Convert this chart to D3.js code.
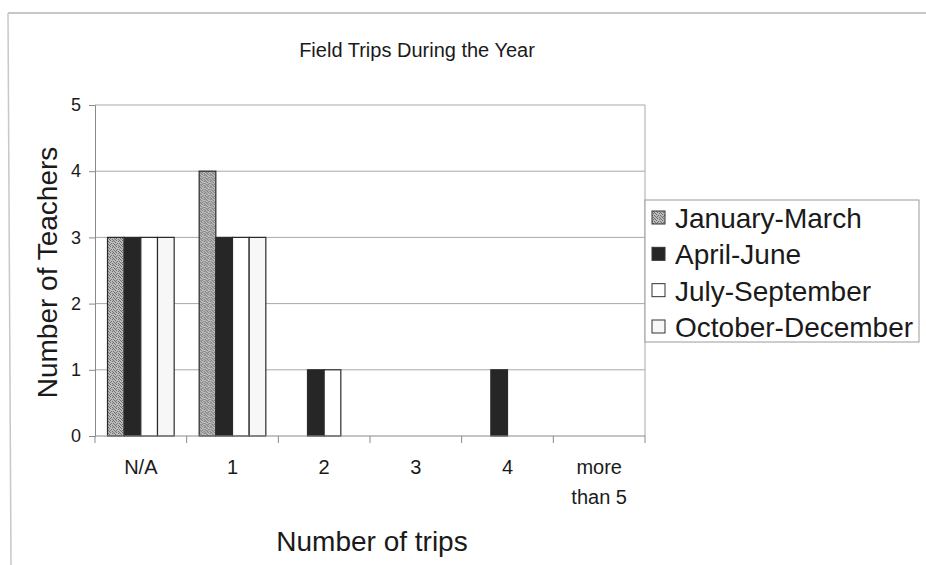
<!DOCTYPE html>
<html>
<head>
<meta charset="utf-8">
<script src="https://cdn.jsdelivr.net/npm/d3@7/dist/d3.min.js"></script>
<style>
  html, body { margin: 0; padding: 0; background: #fff; }
  svg { display: block; font-family: "Liberation Sans", Arial, sans-serif; }
</style>
</head>
<body>
<svg id="chart" width="926" height="565"></svg>
<script>
// Chart data
const categories = ["N/A", "1", "2", "3", "4", "more than 5"];
const seriesNames = ["January-March", "April-June", "July-September", "October-December"];
const janMar = [3, 4, 0, 0, 0, 0];
const aprJun = [3, 3, 1, 0, 1, 0];
const julSep = [3, 3, 1, 0, 0, 0];
const octDec = [3, 3, 0, 0, 0, 0];
const yTicks = [0, 1, 2, 3, 4, 5];

const seriesValues = [janMar, aprJun, julSep, octDec];

const svg = d3.select("#chart");
const W = 926, H = 565;
const plot = { left: 95, right: 645, top: 105, bottom: 436 };

// Stippled fill for the first series
const defs = svg.append("defs");
const pat = defs.append("pattern")
  .attr("id", "stipple").attr("patternUnits", "userSpaceOnUse")
  .attr("width", 6).attr("height", 6);
pat.append("rect").attr("width", 6).attr("height", 6).attr("fill", "#bababa");
[[0, 0], [3, 0], [1, 1], [5, 1], [2, 2], [4, 3], [0, 3], [1, 4], [3, 4], [5, 5], [2, 5]].forEach(([px, py]) =>
  pat.append("rect").attr("x", px).attr("y", py).attr("width", 1).attr("height", 1).attr("fill", "#707070"));

const fills = ["url(#stipple)", "#262626", "#ffffff", "#f7f7f7"];

// Outer chart frame (top and left edges)
svg.append("line").attr("x1", 8).attr("y1", 13).attr("x2", W).attr("y2", 13)
  .attr("stroke", "#b5b5b5").attr("stroke-width", 1.5);
svg.append("line").attr("x1", 8).attr("y1", 13).attr("x2", 11).attr("y2", H)
  .attr("stroke", "#c8c8c8").attr("stroke-width", 1.5);

// Scales
const x0 = d3.scaleBand().domain(categories).range([plot.left, plot.right]).paddingInner(0).paddingOuter(0);
const y = d3.scaleLinear().domain([0, 5]).range([plot.bottom, plot.top]);
const barW = x0.bandwidth() / 5.5;   // gap width of 150%
const x1 = d3.scaleBand().domain(seriesNames)
  .range([0.75 * barW, 4.75 * barW]).padding(0);

// Gridlines
svg.append("g").selectAll("line").data(yTicks.filter(t => t > 0)).join("line")
  .attr("x1", plot.left).attr("x2", plot.right)
  .attr("y1", d => y(d)).attr("y2", d => y(d))
  .attr("stroke", "#a8a8a8").attr("stroke-width", 1);

// Plot area right edge
svg.append("line").attr("x1", plot.right).attr("x2", plot.right)
  .attr("y1", plot.top).attr("y2", plot.bottom)
  .attr("stroke", "#a8a8a8").attr("stroke-width", 1);

// Bars
const groups = svg.append("g").selectAll("g").data(categories).join("g")
  .attr("transform", d => `translate(${x0(d)},0)`);
groups.selectAll("rect")
  .data((c, ci) => seriesNames.map((s, si) => ({ s, si, v: seriesValues[si][ci] })).filter(d => d.v > 0))
  .join("rect")
  .attr("x", d => x1(d.s)).attr("width", x1.bandwidth())
  .attr("y", d => y(d.v)).attr("height", d => y(0) - y(d.v))
  .attr("fill", d => fills[d.si])
  .attr("stroke", "#2a2a2a").attr("stroke-width", 1.2);

// Y axis
const yAxis = svg.append("g").attr("transform", `translate(${plot.left},0)`)
  .call(d3.axisLeft(y).tickValues(yTicks).tickSize(6).tickPadding(8).tickFormat(d3.format("d")));
yAxis.select(".domain").attr("stroke", "#8a8a8a");
yAxis.selectAll(".tick line").attr("stroke", "#8a8a8a");
yAxis.selectAll(".tick text").attr("font-size", 18).attr("fill", "#1a1a1a")
  .attr("font-family", "Liberation Sans, Arial, sans-serif");

// X axis (ticks sit between categories)
const xAxis = svg.append("g").attr("transform", `translate(0,${plot.bottom})`);
xAxis.append("line").attr("x1", plot.left).attr("x2", plot.right)
  .attr("y1", 0).attr("y2", 0).attr("stroke", "#8a8a8a");
const boundaries = categories.map(c => x0(c)).concat([x0(categories[categories.length - 1]) + x0.bandwidth()]);
xAxis.selectAll("line.tk").data(boundaries).join("line").attr("class", "tk")
  .attr("x1", d => d).attr("x2", d => d).attr("y1", 0).attr("y2", 7)
  .attr("stroke", "#8a8a8a");
const xl = xAxis.selectAll("text").data(categories).join("text")
  .attr("x", d => x0(d) + x0.bandwidth() / 2)
  .attr("y", 38)
  .attr("text-anchor", "middle")
  .attr("font-size", 20).attr("fill", "#1a1a1a");
xl.each(function (d) {
  const t = d3.select(this);
  const words = d === "more than 5" ? ["more", "than 5"] : [d];
  words.forEach((w, i) => t.append("tspan").attr("x", x0(d) + x0.bandwidth() / 2)
    .attr("dy", i === 0 ? 0 : 30).text(w));
});

// Titles
svg.append("text").attr("x", 417).attr("y", 57)
  .attr("text-anchor", "middle").attr("font-size", 20).attr("fill", "#1a1a1a")
  .text("Field Trips During the Year");
svg.append("text").attr("x", 372).attr("y", 551)
  .attr("text-anchor", "middle").attr("font-size", 28).attr("fill", "#1a1a1a")
  .text("Number of trips");
svg.append("text")
  .attr("transform", `translate(57,${(plot.top + plot.bottom) / 2 + 2}) rotate(-90)`)
  .attr("text-anchor", "middle").attr("font-size", 28).attr("fill", "#1a1a1a")
  .text("Number of Teachers");

// Legend
const legend = svg.append("g");
legend.append("rect").attr("x", 645).attr("y", 200).attr("width", 274).attr("height", 142)
  .attr("fill", "#fff").attr("stroke", "#9a9a9a").attr("stroke-width", 1);
const legY = d3.scalePoint().domain(seriesNames).range([218, 327]);
const item = legend.selectAll("g.item").data(seriesNames).join("g").attr("class", "item")
  .attr("transform", d => `translate(0,${legY(d)})`);
item.append("rect").attr("x", 652).attr("y", -7).attr("width", 13).attr("height", 13)
  .attr("fill", (d, i) => fills[i]).attr("stroke", "#333").attr("stroke-width", 1);
item.append("text").attr("x", 675).attr("y", 10)
  .attr("font-size", 28).attr("fill", "#1a1a1a").text(d => d);
</script>
</body>
</html>
